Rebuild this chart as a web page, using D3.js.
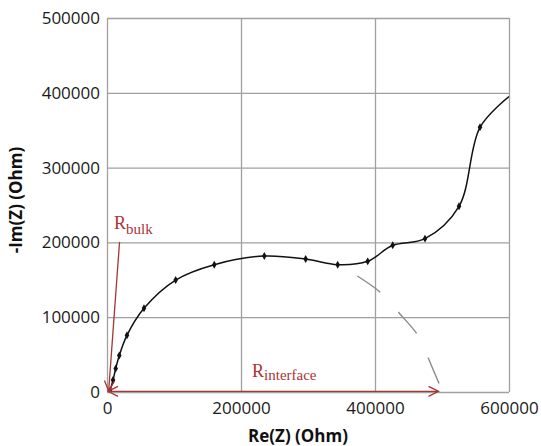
<!DOCTYPE html>
<html>
<head>
<meta charset="utf-8">
<script src="https://cdn.jsdelivr.net/npm/d3@7"></script>
<style>
  body { margin: 0; background: #fff; }
  svg { display: block; }
</style>
</head>
<body>
<svg id="chart" width="541" height="446"></svg>
<script>
// Nyquist data (Ohm)
const reZ = [4500, 9000, 13000, 18300, 29800, 55200, 102500, 160100, 234800, 296500, 344300, 389100, 426400, 474600, 525400, 556700, 600000];
const imZ = [1300, 16000, 31400, 48800, 75800, 111900, 149700, 170200, 181800, 177800, 170200, 174700, 196100, 205000, 248300, 353900, 395000];
// the last point is where the line leaves the plot, no marker there
const markerCount = reZ.length - 1;

// dashed extrapolated arc
const arcRe = [373600, 407900, 437300, 466100, 479600, 496000];
const arcIm = [155100, 133300, 104300, 73100, 45100, 10500];

const xTicks = [0, 200000, 400000, 600000];
const yTicks = [0, 100000, 200000, 300000, 400000, 500000];

const width = 541, height = 446;
const margin = { top: 18, right: 32, bottom: 54, left: 107 };
const chartWidth = width - margin.left - margin.right;
const chartHeight = height - margin.top - margin.bottom;

const gridColor = "#a0a0a0";
const annColor = "#a83535";

const x = d3.scaleLinear().domain([0, 600000]).range([0, chartWidth]);
const y = d3.scaleLinear().domain([0, 500000]).range([chartHeight, 0]);

const svgRoot = d3.select("#chart");

svgRoot.append("rect")
  .attr("width", width)
  .attr("height", height)
  .attr("fill", "#fff");

const defs = svgRoot.append("defs");
defs.append("marker")
  .attr("id", "chev")
  .attr("viewBox", "0 0 12 12")
  .attr("refX", 11)
  .attr("refY", 6)
  .attr("markerWidth", 12)
  .attr("markerHeight", 12)
  .attr("markerUnits", "userSpaceOnUse")
  .attr("orient", "auto-start-reverse")
  .append("path")
  .attr("d", "M1,1 L11,6 L1,11")
  .attr("fill", "none")
  .attr("stroke", annColor)
  .attr("stroke-width", 1.3);

defs.append("clipPath")
  .attr("id", "plotclip")
  .append("rect")
  .attr("width", chartWidth)
  .attr("height", chartHeight);

const svg = svgRoot.append("g")
  .attr("transform", `translate(${margin.left},${margin.top})`);

// grid + axes
const xAxis = (g) => g
  .attr("transform", `translate(0,${chartHeight})`)
  .call(d3.axisBottom(x).tickValues(xTicks).tickFormat(d3.format("d"))
    .tickSize(-chartHeight).tickPadding(10))
  .call((g) => g.select(".domain").remove())
  .call((g) => g.selectAll(".tick line").attr("stroke", gridColor).attr("stroke-width", 1.3))
  .call((g) => g.selectAll(".tick text")
    .attr("font-family", "'Open Sans', sans-serif")
    .attr("font-size", 17)
    .attr("fill", "#1a1a1a"));

const yAxis = (g) => g
  .call(d3.axisLeft(y).tickValues(yTicks).tickFormat(d3.format("d"))
    .tickSize(-chartWidth).tickPadding(7))
  .call((g) => g.select(".domain").remove())
  .call((g) => g.selectAll(".tick line").attr("stroke", gridColor).attr("stroke-width", 1.3))
  .call((g) => g.selectAll(".tick text")
    .attr("font-family", "'Open Sans', sans-serif")
    .attr("font-size", 17)
    .attr("fill", "#1a1a1a"));

svg.append("g").call(xAxis);
svg.append("g").call(yAxis);

// axis titles
svg.append("text")
  .attr("x", chartWidth / 2 - 10)
  .attr("y", chartHeight + 50)
  .attr("text-anchor", "middle")
  .attr("font-family", "'Open Sans', sans-serif")
  .attr("font-weight", "bold")
  .attr("font-size", 17)
  .attr("fill", "#111")
  .text("Re(Z) (Ohm)");

svg.append("text")
  .attr("transform", `translate(${22 - margin.left},${chartHeight / 2 - 5}) rotate(-90)`)
  .attr("text-anchor", "middle")
  .attr("font-family", "'Open Sans', sans-serif")
  .attr("font-weight", "bold")
  .attr("font-size", 17)
  .attr("fill", "#111")
  .text("-Im(Z) (Ohm)");

// dashed arc
const arcPts = arcRe.map((d, i) => [x(d), y(arcIm[i])]);
svg.append("path")
  .attr("d", d3.line().curve(d3.curveCatmullRom.alpha(0.5))(arcPts))
  .attr("fill", "none")
  .attr("stroke", "#8a8a8a")
  .attr("stroke-width", 1.4)
  .attr("stroke-dasharray", "28,27");

// measured curve
const pts = reZ.map((d, i) => [x(d), y(imZ[i])]);
const viz = svg.append("g").attr("clip-path", "url(#plotclip)");
viz.append("path")
  .attr("d", d3.line().curve(d3.curveCatmullRom.alpha(0.5))(pts))
  .attr("fill", "none")
  .attr("stroke", "#111")
  .attr("stroke-width", 1.5);

viz.selectAll("path.pt")
  .data(pts.slice(0, markerCount))
  .join("path")
  .attr("class", "pt")
  .attr("transform", (d) => `translate(${d[0]},${d[1]})`)
  .attr("d", d3.symbol(d3.symbolDiamond, 18))
  .attr("fill", "#111");

// annotations
svg.append("line")
  .attr("x1", x(1500)).attr("y1", y(900))
  .attr("x2", x(494800)).attr("y2", y(900))
  .attr("stroke", annColor)
  .attr("stroke-width", 1.3)
  .attr("marker-start", "url(#chev)")
  .attr("marker-end", "url(#chev)");

svg.append("line")
  .attr("x1", x(18700)).attr("y1", y(200500))
  .attr("x2", x(2500)).attr("y2", y(1500))
  .attr("stroke", annColor)
  .attr("stroke-width", 1.3)
  .attr("marker-end", "url(#chev)");

const rBulk = svg.append("text")
  .attr("x", x(10500))
  .attr("y", y(218000))
  .attr("font-family", "'Liberation Serif', 'Times New Roman', serif")
  .attr("font-size", 18)
  .attr("fill", annColor);
rBulk.append("tspan").text("R");
rBulk.append("tspan").attr("font-size", 15).attr("dy", 5).text("bulk");

const rInt = svg.append("text")
  .attr("x", x(216500))
  .attr("y", y(20500))
  .attr("font-family", "'Liberation Serif', 'Times New Roman', serif")
  .attr("font-size", 18)
  .attr("fill", annColor);
rInt.append("tspan").text("R");
rInt.append("tspan").attr("font-size", 15).attr("dy", 3).text("interface");
</script>
</body>
</html>
